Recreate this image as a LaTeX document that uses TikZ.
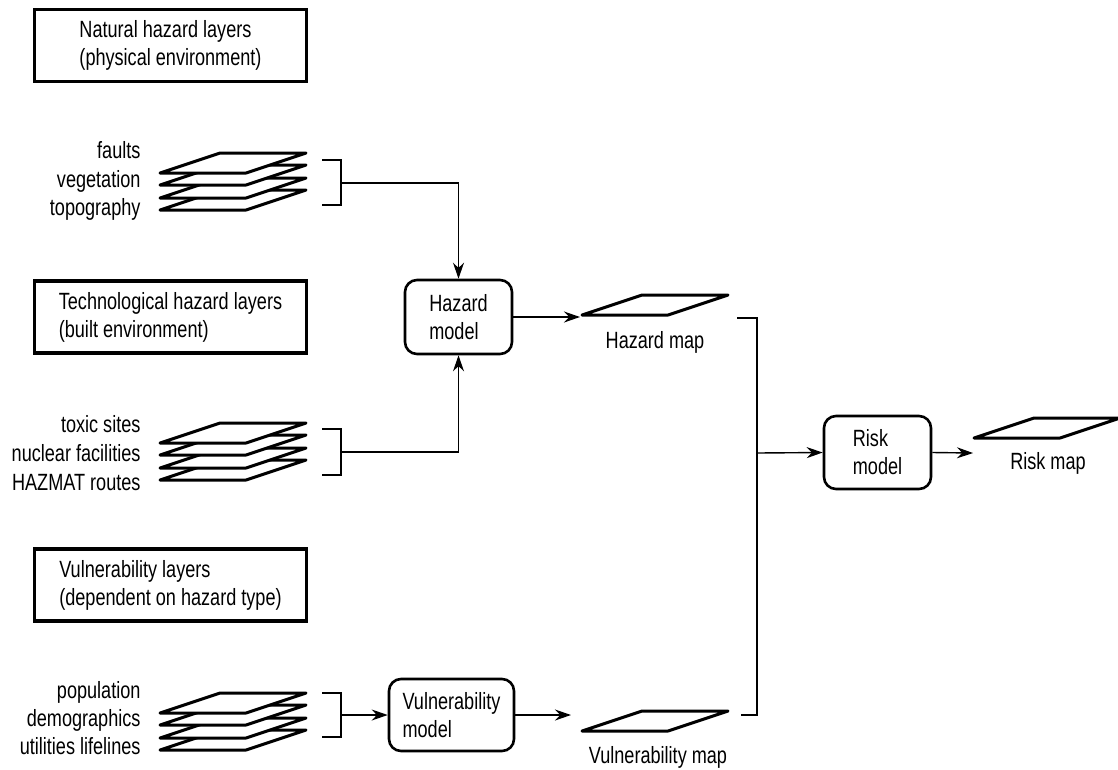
\documentclass[tikz,border=0pt]{standalone}
\usepackage{fontspec}
\setmainfont{Liberation Sans}[FakeStretch=0.77]
\usetikzlibrary{arrows.meta}
\tikzset{
  every node/.style={font=\fontsize{23.5}{28}\selectfont},
  layerbox/.style={draw,line width=3.2pt,minimum width=272pt,minimum height=72pt,align=left,inner sep=0pt},
  modelbox/.style={draw,line width=2.6pt,rounded corners=12pt,align=left,inner sep=0pt},
  sheet/.style={draw,fill=white,line width=3pt,line join=round},
  link/.style={line width=1.4pt},
  arr/.style={link,-{Stealth[length=16pt,width=11pt]}},
}
% one map sheet, lower left corner at #1,#2
\newcommand{\mapsheet}[2]{\draw[sheet] (#1,#2) -- ++(86,0) -- ++(60,-20) -- ++(-86,0) -- cycle;}
\begin{document}
\begin{tikzpicture}[x=1pt,y=-1pt]
\useasboundingbox (0,0) rectangle (1118,769);
% layer groups
\node[layerbox] (natbox) at (170.5,45.5) {Natural hazard layers\\(physical environment)};
\node[layerbox] (techbox) at (170.5,317) {Technological hazard layers\\(built environment)};
\node[layerbox] (vulbox) at (170.5,585) {Vulnerability layers\\(dependent on hazard type)};
% natural
\foreach \b in {210,198,185,173} {\mapsheet{160}{\b}}
\node[anchor=base east] (faults) at (144,158) {faults};
\node[anchor=base east] (vegetation) at (144,187) {vegetation};
\node[anchor=base east] (topography) at (144,215) {topography};
\draw[link] (322,160) -- (341,160) -- (341,205) -- (322,205);
\coordinate (natjoin) at (341,183);
% technological
\foreach \b in {480,468,455,443} {\mapsheet{160}{\b}}
\node[anchor=base east] (toxic) at (144,432) {toxic sites};
\node[anchor=base east] (nuclear) at (144,461) {nuclear facilities};
\node[anchor=base east] (hazmat) at (144,490) {HAZMAT routes};
\draw[link] (322,429) -- (341,429) -- (341,475) -- (322,475);
\coordinate (techjoin) at (341,452);
% vulnerability
\foreach \b in {750,738,725,713} {\mapsheet{160}{\b}}
\node[anchor=base east] (population) at (144,698) {population};
\node[anchor=base east] (demographics) at (144,726) {demographics};
\node[anchor=base east] (utilities) at (144,754) {utilities lifelines};
\draw[link] (322,693) -- (341,693) -- (341,737) -- (322,737);
\coordinate (vuljoin) at (341,715);
% models
\node[modelbox,minimum width=107pt,minimum height=74pt] (hazmodel) at (458.5,317) {Hazard\\model};
\node[modelbox,minimum width=125pt,minimum height=72pt] (vulmodel) at (451.5,715) {Vulnerability\\model};
\node[modelbox,minimum width=107pt,minimum height=73pt] (riskmodel) at (877.5,452.5) {Risk\\model};
% maps
\mapsheet{582}{315}
\node[anchor=base] (hazmap) at (655,348) {Hazard map};
\mapsheet{582}{731}
\node[anchor=base] (vulmap) at (658,763) {Vulnerability map};
\mapsheet{974}{438}
\node[anchor=base] (riskmap) at (1048,469) {Risk map};
\coordinate (hmapin) at (580,317);
\coordinate (hmapout) at (737,318);
\coordinate (vmapin) at (571,715);
\coordinate (vmapout) at (741,715);
\coordinate (mapjoin) at (757,453);
\coordinate (rmapin) at (973,453);
% connectors
\draw[arr] (natjoin) -| (hazmodel.north);
\draw[arr] (techjoin) -| (hazmodel.south);
\draw[arr] (hazmodel.east) -- (hmapin);
\draw[arr] (vuljoin) -- (vulmodel.west);
\draw[arr] (vulmodel.east) -- (vmapin);
\draw[link] (hmapout) -| (mapjoin) |- (vmapout);
\draw[arr] (mapjoin) -- (riskmodel.west);
\draw[arr] (riskmodel.east) -- (rmapin);
\end{tikzpicture}
\end{document}
